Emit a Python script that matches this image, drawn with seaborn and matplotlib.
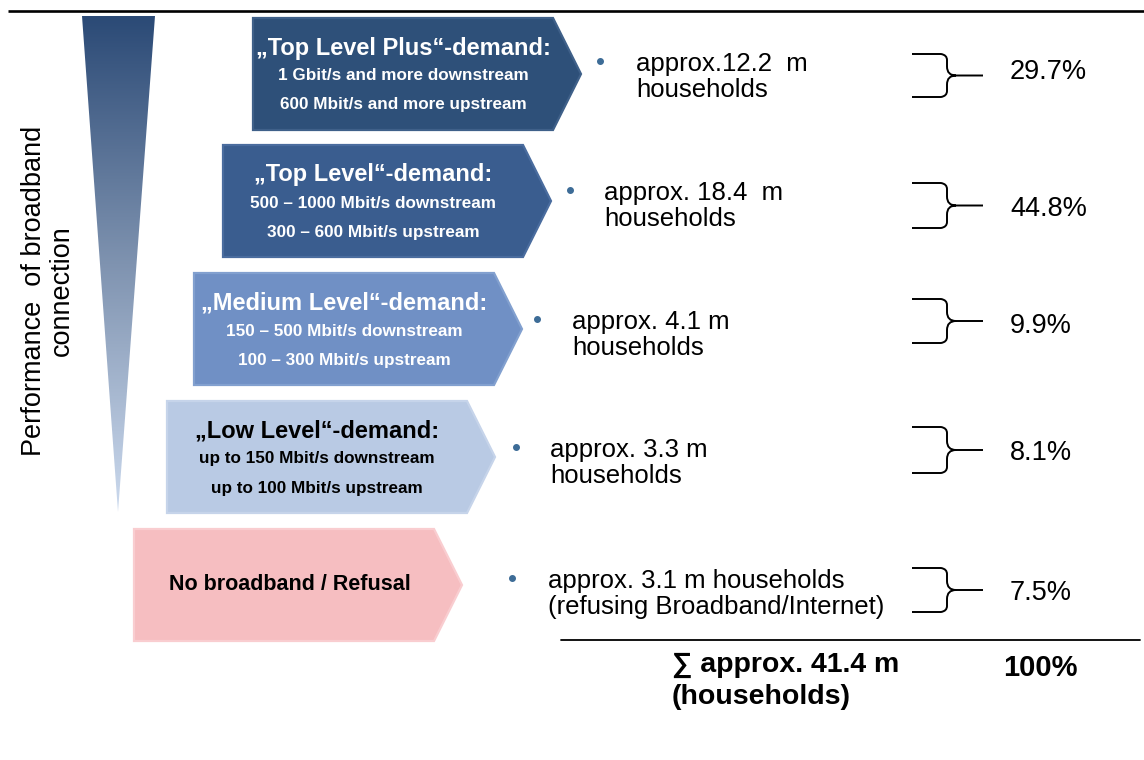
import numpy as np
import seaborn as sns
import matplotlib.pyplot as plt
from matplotlib.patches import Polygon
from matplotlib.path import Path
from matplotlib.patches import PathPatch
from matplotlib.colors import LinearSegmentedColormap

sns.set_theme(style="white")
plt.rcParams["font.family"] = ["Liberation Sans", "DejaVu Sans"]

# data
levels = ["„Top Level Plus“-demand:", "„Top Level“-demand:", "„Medium Level“-demand:",
          "„Low Level“-demand:", "No broadband / Refusal"]
downstream = ["1 Gbit/s and more downstream", "500 – 1000 Mbit/s downstream",
              "150 – 500 Mbit/s downstream", "up to 150 Mbit/s downstream", ""]
upstream = ["600 Mbit/s and more upstream", "300 – 600 Mbit/s upstream",
            "100 – 300 Mbit/s upstream", "up to 100 Mbit/s upstream", ""]
households_m = [12.2, 18.4, 4.1, 3.3, 3.1]
household_labels = ["approx.12.2  m\nhouseholds", "approx. 18.4  m\nhouseholds",
                    "approx. 4.1 m\nhouseholds", "approx. 3.3 m\nhouseholds",
                    "approx. 3.1 m households\n(refusing Broadband/Internet)"]
share_pct = [29.7, 44.8, 9.9, 8.1, 7.5]
total_m = 41.4
axis_label = "Performance  of broadband\nconnection"

box_colors = ["#2E5079", "#3A5D8F", "#7090C5", "#B9CAE4", "#F6BEC1"]
bevel_colors = ["#3F6089", "#4A6C9E", "#82A0CF", "#C6D4EA", "#F9CDD0"]
text_colors = ["white", "white", "white", "black", "black"]

fig = plt.figure(figsize=(11.44, 7.60), dpi=100)
ax = fig.add_axes([0, 0, 1, 1])
ax.set_xlim(0, 1144)
ax.set_ylim(760, 0)
ax.axis("off")

# top rule
ax.plot([8, 1144], [11, 11], color="black", lw=1.9, solid_capstyle="butt")

# gradient wedge
tri = Polygon([(82, 16), (155, 16), (118, 512)], closed=True, facecolor="none", edgecolor="none")
ax.add_patch(tri)
cmap = LinearSegmentedColormap.from_list("wedge", ["#2B4A76", "#7F93B0", "#CCDAEE"])
grad = np.linspace(0, 1, 256).reshape(-1, 1)
im = ax.imshow(grad, cmap=cmap, extent=(82, 155, 512, 16), aspect="auto", origin="upper")
im.set_clip_path(tri)
ax.text(48, 291, axis_label, rotation=90, ha="center", va="center",
        fontsize=19.5, linespacing=1.05, color="black")


def brace(x0, xm, xt, y0, y1, r=6, rc=9):
    ym = (y0 + y1) / 2
    verts = [(x0, y0), (xm - r, y0), (xm, y0 + 1), (xm, y0 + r),
             (xm, ym - rc), (xm, ym), (xm + rc, ym), (xt, ym),
             (xm + rc, ym), (xm, ym), (xm, ym + rc),
             (xm, y1 - r), (xm, y1 - 1), (xm - r, y1), (x0, y1)]
    codes = [Path.MOVETO, Path.LINETO, Path.CURVE3, Path.CURVE3,
             Path.LINETO, Path.CURVE3, Path.CURVE3, Path.LINETO,
             Path.MOVETO, Path.CURVE3, Path.CURVE3,
             Path.LINETO, Path.CURVE3, Path.CURVE3, Path.LINETO]
    ax.add_patch(PathPatch(Path(verts, codes), facecolor="none", edgecolor="black",
                           lw=1.4, joinstyle="round"))


box_left = [253, 223, 194, 167, 134]
box_top = [18, 145, 273, 401, 529]
box_w, box_h, tip = 300, 112, 28
bullet_x = [600, 570, 537, 516, 512]
label_x = [636, 604, 572, 550, 548]
label_y = [75, 204, 333, 461, 592]
brace_y = [(54, 97), (183, 228), (299, 343), (427, 473), (568, 612)]
pct_y = [72, 209, 326, 453, 593]

for i, name in enumerate(levels):
    x, y = box_left[i], box_top[i]
    pts = [(x, y), (x + box_w, y), (x + box_w + tip, y + box_h / 2), (x + box_w, y + box_h), (x, y + box_h)]
    ax.add_patch(Polygon(pts, closed=True, facecolor=box_colors[i],
                         edgecolor=bevel_colors[i], lw=1.6, joinstyle="miter"))
    cx = x + box_w / 2
    if downstream[i]:
        ax.text(cx, y + 30, name, ha="center", va="center", fontsize=17,
                fontweight="bold", color=text_colors[i])
        ax.text(cx, y + 58, downstream[i], ha="center", va="center", fontsize=12.3,
                fontweight="bold", color=text_colors[i])
        ax.text(cx, y + 87, upstream[i], ha="center", va="center", fontsize=12.3,
                fontweight="bold", color=text_colors[i])
    else:
        ax.text(cx + 6, y + box_h / 2, name, ha="center", va="center", fontsize=15.5,
                fontweight="bold", color=text_colors[i])

    ax.plot(bullet_x[i], label_y[i] - 14, marker="o", ms=4, color="#3D6C97")
    ax.text(label_x[i], label_y[i] + 2, household_labels[i], ha="left", va="center",
            fontsize=18.5, linespacing=1.15, color="black")
    brace(912, 947, 983, brace_y[i][0], brace_y[i][1])
    ax.text(1010, pct_y[i], f"{share_pct[i]}%", ha="left", va="center",
            fontsize=19.5, color="black")

# totals
ax.plot([561, 1140], [640, 640], color="black", lw=1.3)
ax.text(672, 681, f"∑ approx. {total_m} m\n(households)", ha="left", va="center",
        fontsize=20.5, fontweight="bold", linespacing=1.3, color="black")
ax.text(1003, 668, f"{sum(share_pct):.0f}%", ha="left", va="center",
        fontsize=21, fontweight="bold", color="black")

plt.savefig("out.png", dpi=100)
plt.close()
